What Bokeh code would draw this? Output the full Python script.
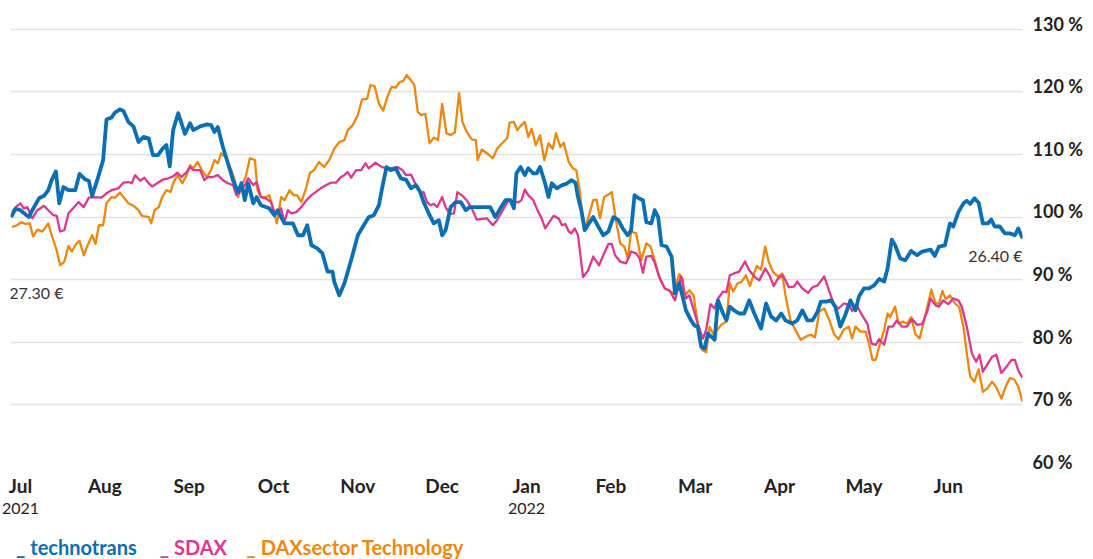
from bokeh.plotting import figure
from bokeh.models import FixedTicker, CustomJSTickFormatter, LinearAxis, Label, Range1d
from bokeh.core.properties import value
from bokeh.layouts import column
from bokeh.embed import file_html
from bokeh.resources import INLINE

# x positions are in months since start of July 2021 (0 = Jul, 6 = Jan 2022, 11 = Jun 2022)
months = ["Jul", "Aug", "Sep", "Oct", "Nov", "Dec", "Jan", "Feb", "Mar", "Apr", "May", "Jun"]
month_ticks = list(range(12))
year_ticks = [0, 6]
year_labels = ["2021", "2022"]
pct_ticks = [60, 70, 80, 90, 100, 110, 120, 130]

series_names = ["technotrans", "SDAX", "DAXsector Technology"]
series_colors = ["#0a6fb5", "#df3790", "#f0870c"]

tech_x = [-0.11, -0.06, 0.00, 0.10, 0.14, 0.22, 0.28, 0.33, 0.37, 0.42, 0.46, 0.51, 0.57, 0.65, 0.70, 0.77, 0.81, 0.85, 0.91, 0.98,
          1.02, 1.08, 1.12, 1.18, 1.22, 1.28, 1.34, 1.40, 1.46, 1.52, 1.57, 1.63, 1.69, 1.73, 1.77, 1.81, 1.87, 1.95, 2.01, 2.05,
          2.13, 2.21, 2.26, 2.30, 2.34, 2.40, 2.46, 2.52, 2.58, 2.62, 2.66, 2.70, 2.76, 2.80, 2.85, 2.95, 3.01, 3.05, 3.09, 3.13,
          3.23, 3.29, 3.35, 3.40, 3.45, 3.52, 3.58, 3.64, 3.70, 3.72, 3.78, 3.84, 3.92, 4.00, 4.07, 4.13, 4.19, 4.25, 4.29, 4.34,
          4.39, 4.45, 4.51, 4.57, 4.63, 4.69, 4.74, 4.78, 4.84, 4.90, 4.96, 5.00, 5.04, 5.10, 5.16, 5.22, 5.28, 5.33, 5.57, 5.63,
          5.69, 5.75, 5.81, 5.85, 5.88, 5.93, 5.98, 6.02, 6.08, 6.12, 6.16, 6.22, 6.26, 6.30, 6.36, 6.42, 6.47, 6.53, 6.58, 6.61,
          6.65, 6.69, 6.74, 6.79, 6.85, 6.91, 6.97, 7.03, 7.09, 7.14, 7.20, 7.24, 7.28, 7.33, 7.38, 7.42, 7.48, 7.52, 7.56, 7.60,
          7.66, 7.72, 7.76, 7.81, 7.85, 7.89, 7.95, 7.99, 8.03, 8.07, 8.11, 8.15, 8.19, 8.23, 8.27, 8.33, 8.37, 8.41, 8.46, 8.52,
          8.58, 8.64, 8.70, 8.78, 8.84, 8.90, 8.96, 9.02, 9.07, 9.15, 9.21, 9.27, 9.33, 9.39, 9.45, 9.49, 9.55, 9.61, 9.66, 9.72,
          9.78, 9.84, 9.90, 9.94, 10.00, 10.06, 10.12, 10.18, 10.24, 10.28, 10.33, 10.37, 10.43, 10.49, 10.56, 10.63, 10.69, 10.79, 10.84, 10.89,
          10.96, 11.02, 11.06, 11.12, 11.18, 11.22, 11.26, 11.31, 11.36, 11.41, 11.47, 11.51, 11.55, 11.61, 11.67, 11.73, 11.79, 11.83, 11.88]
tech_y = [100.0, 101.3, 101.1, 100.0, 101.1, 103.0, 103.4, 104.3, 105.9, 107.3, 102.2, 104.8, 104.3, 104.3, 106.9, 106.0, 105.8, 103.4, 105.9, 109.1,
          115.6, 115.9, 116.7, 117.2, 117.0, 115.2, 114.5, 112.0, 112.8, 112.6, 109.9, 109.9, 111.0, 111.5, 108.1, 113.9, 116.6, 113.3, 115.0, 113.9,
          114.5, 114.8, 114.7, 113.6, 114.4, 111.2, 108.6, 105.9, 104.0, 105.4, 102.7, 105.4, 102.2, 103.2, 101.9, 101.4, 100.3, 101.1, 100.0, 99.0,
          99.0, 97.1, 97.1, 98.7, 95.5, 95.0, 94.2, 91.3, 91.3, 89.7, 87.5, 89.4, 93.1, 97.1, 98.7, 100.0, 100.3, 101.9, 104.8, 108.0,
          107.5, 107.8, 106.2, 106.0, 104.6, 105.1, 104.0, 102.4, 100.6, 99.0, 99.5, 97.1, 97.9, 101.6, 102.4, 102.4, 101.1, 101.6, 101.6, 100.0,
          101.4, 102.7, 102.7, 101.4, 107.0, 108.0, 106.7, 107.8, 107.0, 107.0, 108.0, 105.4, 103.2, 105.4, 104.6, 105.1, 105.3, 105.9, 105.5, 103.2,
          101.1, 97.9, 99.0, 100.0, 98.5, 97.1, 97.7, 100.0, 99.5, 98.2, 97.1, 97.9, 103.5, 103.0, 102.7, 99.2, 99.0, 101.1, 100.0, 95.5,
          95.3, 93.7, 87.8, 89.4, 87.3, 85.1, 83.5, 82.7, 82.5, 79.3, 79.0, 81.4, 80.9, 80.4, 86.7, 84.6, 83.5, 85.7, 85.1, 84.6,
          84.6, 86.7, 84.6, 82.2, 86.2, 84.1, 83.5, 84.6, 83.5, 83.0, 83.5, 85.1, 83.5, 83.5, 84.9, 86.5, 86.5, 86.7, 85.7, 82.5,
          84.4, 86.7, 85.1, 87.3, 88.6, 88.6, 89.1, 90.1, 89.7, 91.8, 96.4, 95.5, 93.4, 93.1, 94.6, 93.9, 94.5, 94.8, 93.8, 95.3,
          95.5, 99.0, 98.5, 100.8, 102.2, 102.6, 102.1, 103.0, 102.3, 99.0, 99.0, 99.6, 98.5, 98.5, 97.4, 97.4, 97.1, 98.2, 96.6]

sdax_x = [-0.10, -0.04, 0.00, 0.04, 0.08, 0.14, 0.20, 0.28, 0.33, 0.39, 0.43, 0.47, 0.52, 0.57, 0.63, 0.69, 0.75, 0.81, 0.89, 0.96,
          1.02, 1.08, 1.16, 1.22, 1.28, 1.32, 1.36, 1.42, 1.47, 1.52, 1.56, 1.63, 1.69, 1.75, 1.81, 1.86, 1.91, 1.97, 2.01, 2.05,
          2.13, 2.18, 2.22, 2.28, 2.34, 2.40, 2.46, 2.52, 2.56, 2.62, 2.66, 2.70, 2.76, 2.80, 2.85, 2.91, 2.97, 3.01, 3.05, 3.09,
          3.13, 3.17, 3.21, 3.27, 3.33, 3.39, 3.45, 3.50, 3.56, 3.62, 3.68, 3.74, 3.80, 3.84, 3.88, 3.92, 3.98, 4.04, 4.09, 4.13,
          4.21, 4.27, 4.33, 4.39, 4.47, 4.53, 4.57, 4.63, 4.69, 4.74, 4.78, 4.82, 4.86, 4.90, 4.94, 5.00, 5.04, 5.09, 5.14, 5.18,
          5.24, 5.29, 5.35, 5.41, 5.47, 5.53, 5.60, 5.65, 5.73, 5.79, 5.85, 5.91, 5.94, 5.98, 6.02, 6.08, 6.14, 6.18, 6.22, 6.27,
          6.32, 6.38, 6.42, 6.46, 6.50, 6.53, 6.57, 6.61, 6.67, 6.73, 6.79, 6.86, 6.91, 6.97, 7.01, 7.05, 7.11, 7.18, 7.24, 7.30,
          7.34, 7.38, 7.42, 7.48, 7.52, 7.58, 7.64, 7.70, 7.76, 7.80, 7.83, 7.89, 7.93, 7.97, 8.03, 8.09, 8.13, 8.18, 8.23, 8.27,
          8.33, 8.37, 8.41, 8.46, 8.52, 8.59, 8.64, 8.70, 8.76, 8.83, 8.88, 8.93, 8.98, 9.04, 9.11, 9.17, 9.21, 9.27, 9.34, 9.39,
          9.45, 9.53, 9.59, 9.65, 9.70, 9.76, 9.82, 9.86, 9.92, 9.98, 10.04, 10.09, 10.14, 10.18, 10.24, 10.29, 10.34, 10.39, 10.45, 10.51,
          10.57, 10.63, 10.69, 10.75, 10.79, 10.85, 10.89, 10.94, 11.00, 11.06, 11.12, 11.16, 11.22, 11.28, 11.33, 11.37, 11.41, 11.46, 11.52, 11.57,
          11.63, 11.69, 11.75, 11.79, 11.83, 11.88]
sdax_y = [100.8, 101.8, 102.2, 101.4, 101.6, 99.8, 101.1, 101.8, 101.1, 100.3, 100.2, 97.7, 97.9, 100.6, 101.5, 102.4, 101.6, 103.1, 103.2, 103.1,
          103.8, 104.3, 104.6, 105.5, 105.6, 105.4, 106.7, 105.8, 106.3, 105.4, 104.9, 105.5, 106.0, 106.2, 106.5, 107.1, 106.4, 107.2, 108.0, 107.5,
          107.5, 105.9, 106.4, 106.4, 106.7, 105.9, 105.4, 105.1, 103.5, 104.3, 105.1, 106.2, 105.1, 105.6, 103.2, 103.0, 102.4, 100.8, 100.6, 101.4,
          99.2, 101.1, 100.6, 100.8, 101.6, 102.7, 103.5, 104.0, 104.6, 105.1, 105.5, 105.5, 106.4, 106.7, 107.2, 106.3, 107.5, 107.5, 108.6, 107.8,
          108.7, 108.1, 107.8, 107.8, 108.0, 107.5, 106.7, 106.8, 105.1, 103.8, 104.0, 102.4, 101.9, 102.1, 101.6, 103.2, 101.6, 100.5, 100.6, 104.0,
          103.4, 102.7, 101.4, 99.6, 99.7, 99.8, 98.7, 99.5, 101.4, 102.8, 102.4, 102.4, 102.7, 104.4, 103.5, 102.7, 100.8, 99.8, 98.2, 99.2,
          100.2, 99.8, 98.7, 98.9, 97.7, 97.4, 98.2, 97.1, 90.4, 91.5, 93.7, 92.3, 93.9, 95.7, 95.7, 93.9, 92.9, 92.6, 94.5, 94.2,
          93.4, 91.1, 93.7, 93.8, 92.7, 90.2, 88.6, 88.2, 86.7, 88.9, 90.5, 87.0, 87.5, 85.7, 83.0, 80.6, 82.0, 86.1, 85.4, 87.0,
          88.1, 88.0, 90.7, 91.0, 91.3, 92.9, 91.5, 90.5, 89.9, 91.8, 90.7, 89.0, 90.2, 90.7, 88.8, 88.9, 89.7, 88.6, 87.9, 88.8,
          89.1, 90.5, 88.1, 85.9, 85.4, 86.2, 86.0, 85.0, 85.8, 84.3, 83.0, 79.8, 79.6, 80.5, 79.6, 82.5, 82.5, 83.5, 82.5, 82.5,
          83.7, 82.8, 82.9, 84.9, 87.0, 85.9, 85.7, 86.7, 86.1, 87.0, 86.7, 85.7, 82.5, 78.2, 76.9, 78.0, 75.3, 76.4, 77.7, 78.0,
          75.1, 76.1, 77.2, 77.2, 75.5, 74.3]

dax_x = [-0.10, -0.04, 0.01, 0.06, 0.11, 0.15, 0.20, 0.26, 0.33, 0.37, 0.43, 0.47, 0.52, 0.57, 0.61, 0.66, 0.70, 0.75, 0.79, 0.85,
         0.89, 0.93, 0.98, 1.02, 1.08, 1.12, 1.18, 1.22, 1.28, 1.34, 1.40, 1.44, 1.52, 1.55, 1.59, 1.64, 1.68, 1.73, 1.78, 1.81,
         1.86, 1.92, 1.97, 2.01, 2.05, 2.10, 2.15, 2.21, 2.26, 2.30, 2.34, 2.38, 2.44, 2.50, 2.54, 2.58, 2.62, 2.67, 2.72, 2.78,
         2.81, 2.85, 2.91, 2.95, 2.99, 3.04, 3.09, 3.13, 3.19, 3.24, 3.28, 3.33, 3.39, 3.43, 3.48, 3.54, 3.60, 3.66, 3.72, 3.78,
         3.84, 3.88, 3.94, 4.00, 4.05, 4.11, 4.15, 4.20, 4.25, 4.30, 4.35, 4.40, 4.45, 4.49, 4.54, 4.58, 4.62, 4.67, 4.71, 4.75,
         4.80, 4.85, 4.90, 4.95, 5.00, 5.05, 5.10, 5.15, 5.20, 5.24, 5.29, 5.35, 5.40, 5.42, 5.47, 5.53, 5.60, 5.65, 5.71, 5.77,
         5.80, 5.85, 5.89, 5.94, 5.98, 6.02, 6.06, 6.11, 6.16, 6.21, 6.26, 6.31, 6.35, 6.40, 6.44, 6.50, 6.55, 6.59, 6.63, 6.68,
         6.73, 6.79, 6.83, 6.87, 6.92, 6.97, 7.01, 7.06, 7.11, 7.16, 7.20, 7.24, 7.30, 7.36, 7.42, 7.47, 7.52, 7.57, 7.64, 7.69,
         7.74, 7.81, 7.85, 7.87, 7.93, 7.98, 8.03, 8.08, 8.13, 8.17, 8.21, 8.25, 8.31, 8.37, 8.41, 8.45, 8.50, 8.55, 8.60, 8.65,
         8.69, 8.73, 8.78, 8.83, 8.87, 8.92, 8.98, 9.03, 9.08, 9.13, 9.19, 9.25, 9.31, 9.37, 9.42, 9.47, 9.53, 9.59, 9.65, 9.70,
         9.76, 9.82, 9.86, 9.90, 9.96, 10.02, 10.06, 10.10, 10.14, 10.18, 10.24, 10.28, 10.31, 10.37, 10.41, 10.46, 10.51, 10.56, 10.61, 10.66,
         10.71, 10.76, 10.80, 10.85, 10.89, 10.93, 10.97, 11.02, 11.08, 11.13, 11.18, 11.22, 11.26, 11.31, 11.36, 11.41, 11.46, 11.52, 11.57, 11.63,
         11.68, 11.73, 11.78, 11.83, 11.88]
dax_y = [98.4, 98.7, 99.2, 98.9, 99.0, 96.9, 98.0, 97.7, 99.0, 97.1, 94.7, 92.3, 92.9, 95.4, 94.5, 95.7, 96.2, 93.9, 95.3, 97.1,
         95.7, 98.7, 98.7, 102.2, 103.2, 103.1, 103.9, 103.2, 102.2, 101.8, 101.1, 100.2, 100.0, 99.0, 101.1, 101.6, 103.2, 104.3, 104.0, 105.4,
         106.7, 105.4, 106.7, 108.3, 107.8, 108.8, 107.5, 106.4, 107.5, 109.1, 108.6, 110.2, 109.4, 107.5, 105.9, 103.2, 105.1, 106.4, 109.4, 109.1,
         104.3, 103.2, 103.2, 103.5, 101.6, 99.0, 103.2, 102.7, 104.3, 103.5, 103.5, 102.4, 104.8, 107.0, 107.5, 108.8, 108.0, 109.1, 110.9, 112.0,
         112.3, 113.9, 114.7, 116.3, 118.8, 118.9, 121.1, 120.9, 118.1, 117.0, 119.2, 120.8, 120.7, 121.5, 121.8, 122.7, 122.0, 121.1, 116.8, 116.3,
         116.5, 111.8, 112.7, 112.3, 118.1, 113.4, 113.1, 113.5, 119.8, 115.2, 113.6, 112.4, 112.3, 109.1, 110.8, 110.2, 109.4, 110.9, 111.8, 112.6,
         115.1, 115.2, 113.9, 114.7, 115.2, 112.8, 114.1, 111.5, 113.1, 109.1, 111.8, 110.9, 113.4, 111.2, 111.9, 108.8, 107.8, 107.5, 104.3, 97.9,
         99.8, 102.7, 102.8, 99.8, 103.2, 103.6, 104.0, 99.5, 95.8, 95.3, 93.4, 97.7, 97.4, 93.1, 95.8, 95.3, 93.1, 90.5, 88.6, 88.3,
         87.8, 90.9, 90.2, 87.5, 88.3, 87.5, 83.0, 78.8, 78.4, 82.5, 81.4, 81.8, 82.8, 83.3, 89.4, 88.1, 89.4, 89.7, 90.7, 89.0,
         90.7, 92.2, 91.6, 95.3, 92.9, 91.3, 90.5, 91.0, 86.7, 83.5, 81.9, 80.4, 80.9, 81.2, 80.8, 84.9, 85.4, 83.5, 81.2, 80.5,
         82.0, 82.5, 80.6, 82.5, 81.7, 81.7, 79.8, 77.2, 77.2, 79.3, 82.0, 84.6, 84.0, 85.7, 83.0, 83.3, 83.0, 84.0, 81.3, 80.6,
         83.3, 86.2, 88.4, 86.2, 86.2, 88.2, 86.9, 87.5, 86.2, 85.6, 82.5, 78.2, 74.5, 73.7, 75.7, 72.1, 72.6, 73.7, 72.8, 71.0,
         72.9, 74.3, 74.1, 72.9, 70.5]

start_price = "27.30 €"
end_price = "26.40 €"
start_price_level = 88.0
end_price_level = 93.8

FONT = "Lato"
DARK = "#222222"
W = 1085

p = figure(width=W, height=521,
           x_range=Range1d(-0.118, 11.88), y_range=Range1d(60.0, 134.6),
           output_backend="svg", toolbar_location=None,
           y_axis_location="right",
           min_border_left=10, min_border_right=59, min_border_top=0, min_border_bottom=54)
p.outline_line_color = None
p.background_fill_color = "white"
p.border_fill_color = "white"

p.xgrid.visible = False
p.ygrid.ticker = FixedTicker(ticks=pct_ticks)
p.ygrid.grid_line_color = "#e2e2e2"
p.ygrid.grid_line_width = 1.5

# right axis: percent labels sitting just above their grid lines
ya = p.yaxis[0]
ya.ticker = FixedTicker(ticks=[t + 0.9 for t in pct_ticks])
ya.formatter = CustomJSTickFormatter(code="return Math.round(tick - 0.9) + ' %';")
ya.axis_line_color = None
ya.major_tick_line_color = None
ya.minor_tick_line_color = None
ya.major_tick_out = 0
ya.major_tick_in = 0
ya.major_label_standoff = 10
ya.major_label_text_font = FONT
ya.major_label_text_font_size = "18px"
ya.major_label_text_font_style = "bold"
ya.major_label_text_color = DARK

# month axis
xa = p.xaxis[0]
xa.ticker = FixedTicker(ticks=month_ticks)
xa.major_label_overrides = {t: m for t, m in zip(month_ticks, months)}
xa.axis_line_color = None
xa.major_tick_line_color = None
xa.minor_tick_line_color = None
xa.major_tick_out = 0
xa.major_tick_in = 0
xa.major_label_standoff = 6
xa.major_label_text_font = FONT
xa.major_label_text_font_size = "19px"
xa.major_label_text_font_style = "bold"
xa.major_label_text_color = DARK

# year axis
xa2 = LinearAxis(ticker=FixedTicker(ticks=year_ticks),
                 major_label_overrides={t: y for t, y in zip(year_ticks, year_labels)})
xa2.axis_line_color = None
xa2.major_tick_line_color = None
xa2.minor_tick_line_color = None
xa2.major_tick_out = 0
xa2.major_tick_in = 0
xa2.major_label_standoff = 3
xa2.major_label_text_font = FONT
xa2.major_label_text_font_size = "16px"
xa2.major_label_text_color = DARK
p.add_layout(xa2, "below")

# lines
p.line(dax_x, dax_y, line_color=series_colors[2], line_width=2.3, line_join="round")
p.line(sdax_x, sdax_y, line_color=series_colors[1], line_width=2.3, line_join="round")
p.line(tech_x, tech_y, line_color=series_colors[0], line_width=3.8, line_join="round")

# price labels
p.add_layout(Label(x=tech_x[0], y=start_price_level, text=start_price, text_align="left",
                   text_baseline="middle", x_offset=-2, text_font=FONT, text_font_size="16px",
                   text_color="#333333"))
p.add_layout(Label(x=tech_x[-1], y=end_price_level, text=end_price, text_align="right",
                   text_baseline="middle", text_font=FONT, text_font_size="16px",
                   text_color="#333333"))

# legend row: coloured text entries
LH = 38
leg = figure(width=W, height=LH, x_range=Range1d(0, W), y_range=Range1d(0, LH),
             output_backend="svg", toolbar_location=None,
             min_border=0)
leg.axis.visible = False
leg.grid.visible = False
leg.outline_line_color = None
leg.text(x=[6, 160, 253], y=[13, 13, 13], text=["_ " + n for n in series_names],
         text_color=series_colors, text_font=value(FONT), text_font_size=value("20px"),
         text_font_style="bold", text_align="left", text_baseline="middle")

open("out.html", "w").write(file_html(column(p, leg), INLINE))
